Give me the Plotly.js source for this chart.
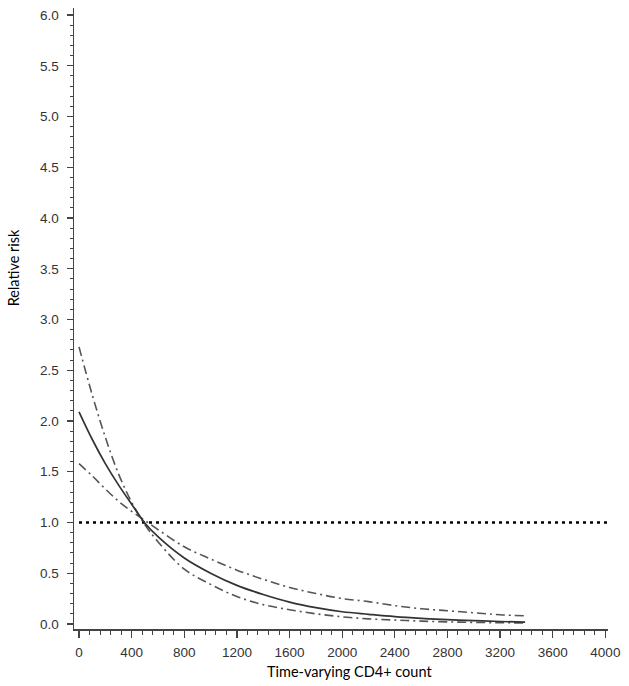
<!DOCTYPE html>
<html>
<head>
<meta charset="utf-8">
<script src="https://cdn.plot.ly/plotly-3.0.1.min.js"></script>
<style>html,body{margin:0;padding:0;background:#fff;}#chart{width:629px;height:686px;}</style>
</head>
<body>
<div id="chart"></div>
<script>
// CD4+ count grid (x values)
const cd4 = [0, 100, 200, 300, 400, 500, 600, 800, 1000, 1200, 1400, 1600, 1800, 2000, 2200, 2400, 2600, 2800, 3000, 3200, 3390];
// Relative risk point estimate (solid)
const rrEstimate = [2.09, 1.82, 1.58, 1.37, 1.18, 0.995, 0.86, 0.65, 0.50, 0.38, 0.29, 0.215, 0.16, 0.12, 0.095, 0.072, 0.055, 0.042, 0.032, 0.024, 0.018];
// Confidence band: flatter curve (lower at low CD4, upper at high CD4)
const rrBandFlat = [1.58, 1.46, 1.33, 1.21, 1.11, 1.02, 0.93, 0.76, 0.64, 0.53, 0.44, 0.36, 0.30, 0.25, 0.22, 0.18, 0.15, 0.13, 0.11, 0.09, 0.08];
// Confidence band: steeper curve (upper at low CD4, lower at high CD4)
const rrBandSteep = [2.73, 2.26, 1.84, 1.48, 1.20, 0.98, 0.81, 0.54, 0.39, 0.27, 0.19, 0.14, 0.10, 0.07, 0.05, 0.038, 0.028, 0.02, 0.015, 0.012, 0.01];
// Reference line at relative risk 1
const refX = [0, 4020];
const refY = [1, 1];
// Axis titles
const xTitle = 'Time-varying CD4+ count';
const yTitle = 'Relative risk';

const traces = [
  {x: refX, y: refY, mode: 'lines', line: {color: '#000', width: 2.6, dash: '3px,4px'}, hoverinfo: 'skip'},
  {x: cd4, y: rrBandSteep, mode: 'lines', line: {color: '#555', width: 1.6, dash: '9px,4px,2px,4px', shape: 'spline', smoothing: 1}},
  {x: cd4, y: rrBandFlat, mode: 'lines', line: {color: '#555', width: 1.6, dash: '9px,4px,2px,4px', shape: 'spline', smoothing: 1}},
  {x: cd4, y: rrEstimate, mode: 'lines', line: {color: '#333', width: 1.7, shape: 'spline', smoothing: 1}}
];

const tickFont = {family: '"Liberation Sans", Arial, sans-serif', size: 13.5, color: '#333'};
const titleFont = {family: 'Lato, "Open Sans", sans-serif', size: 14.5, color: '#000'};
const layout = {
  width: 629, height: 686,
  margin: {l: 74, r: 21, t: 8, b: 57},
  showlegend: false,
  paper_bgcolor: '#fff', plot_bgcolor: '#fff',
  xaxis: {
    range: [-38, 4020], showgrid: false, zeroline: false,
    showline: true, linecolor: '#444', linewidth: 1.5,
    ticks: 'outside', ticklen: 7, tickwidth: 1.3, tickcolor: '#444',
    tick0: 0, dtick: 400, tickfont: tickFont, ticklabelstandoff: 3,
    minor: {ticks: 'outside', ticklen: 4, tickwidth: 1, tickcolor: '#444', tick0: 0, dtick: 80, showgrid: false}
  },
  yaxis: {
    range: [-0.05, 6.07], showgrid: false, zeroline: false,
    showline: true, linecolor: '#444', linewidth: 1.5,
    ticks: 'outside', ticklen: 6, tickwidth: 1.3, tickcolor: '#444',
    tick0: 0, dtick: 0.5, tickformat: '.1f', tickfont: tickFont, ticklabelstandoff: 5,
    minor: {ticks: 'outside', ticklen: 3, tickwidth: 1, tickcolor: '#444', tick0: 0, dtick: 0.1, showgrid: false}
  },
  annotations: [
    {text: xTitle, xref: 'paper', yref: 'paper', x: 0.516, y: -0.068, xanchor: 'center', yanchor: 'middle', showarrow: false, font: titleFont},
    {text: yTitle, xref: 'paper', yref: 'paper', x: -0.114, y: 0.581, xanchor: 'center', yanchor: 'middle', textangle: -90, showarrow: false, font: titleFont}
  ]
};
Plotly.newPlot('chart', traces, layout, {staticPlot: true, displayModeBar: false});
</script>
</body>
</html>
